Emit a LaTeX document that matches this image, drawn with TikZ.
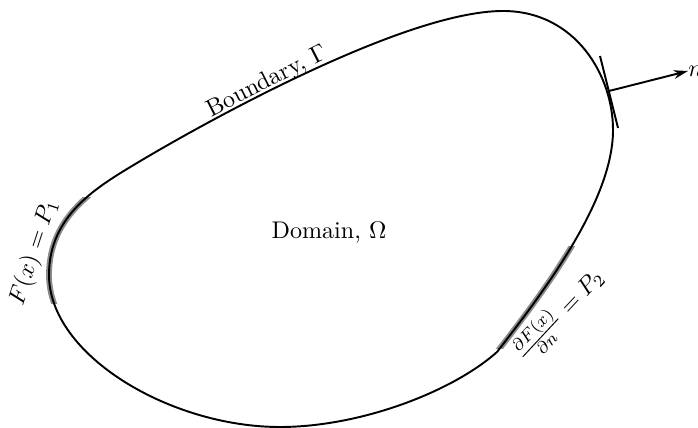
\documentclass[tikz,border=0pt]{standalone}
\usetikzlibrary{arrows.meta}
\tikzset{
  bline/.style={line width=0.8pt, black},
  gband/.style={line width=2.4pt, black!45},
  lbl/.style={inner sep=0pt},
}
\begin{document}
\begin{tikzpicture}[x=0.415pt,y=-0.415pt]
\useasboundingbox (0,0) rectangle (698,428);
\coordinate (A) at (503,11);
\coordinate (B) at (613,130);
\coordinate (C) at (497,352);
\coordinate (D) at (280,427);
\coordinate (E) at (49,275);
\coordinate (H) at (137,163);
\path[save path=\bnd] (A) .. controls (575,11) and (613,75) .. (B)
  .. controls (613,200) and (545,290) .. (C)
  .. controls (452,392) and (360,427) .. (D)
  .. controls (170,427) and (49,355) .. (E)
  .. controls (49,215) and (97,187) .. (H)
  .. controls (197,127) and (403,11) .. (A) -- cycle;
% gray bands
\begin{scope}
  \clip (0,198) rectangle (120,304);
  \draw[gband, use path=\bnd];
\end{scope}
\begin{scope}
  \clip (495,247) rectangle (578,349);
  \draw[gband, use path=\bnd];
\end{scope}
\draw[bline, use path=\bnd];
% normal
\coordinate (nb) at (609,91);
\coordinate (t1) at (600,56);
\coordinate (t2) at (618,128);
\draw[bline] (t1) -- (t2);
\node[lbl, anchor=west] (n) at (688,71) {$n$};
\draw[bline, -{Stealth[length=6pt,width=3.6pt]}] (nb) -- (n.west);
% labels
\node[lbl] (dom) at (329,233) {Domain, $\Omega$};
\node[lbl, rotate=27] (bd) at (267,82) {Boundary, $\Gamma$};
\node[lbl, rotate=72] (p1) at (34,252) {$F(x) = P_1$};
\node[lbl, rotate=47] (p2) at (559,315) {$\frac{\partial F(x)}{\partial n} = P_2$};
\end{tikzpicture}
\end{document}
